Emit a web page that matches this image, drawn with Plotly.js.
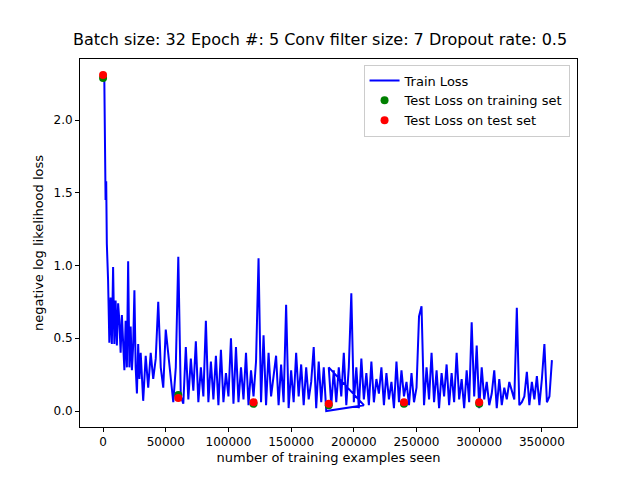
<!DOCTYPE html>
<html><head><meta charset="utf-8">
<script src="https://cdn.plot.ly/plotly-3.0.0.min.js"></script>
<style>body{margin:0}#plot{width:640px;height:480px}</style>
</head><body><div id="plot"></div>
<script>
// training loss
// first epoch start, irregular x
const earlyX = [0,1000,2000,2500,3000,4000,5000,6000,7000,8000,9000,10000,11000,12000,13000,14000,15000,16000,17000,18000,19000,20000,21000,22000,23000,24000,25000,26000,27000,28000,29000,30000];
const earlyY = [2.30,2.28,1.45,1.58,1.15,0.90,0.47,0.78,0.46,0.99,0.46,0.76,0.45,0.74,0.62,0.40,0.66,0.50,0.28,0.62,0.30,1.03,0.30,0.58,0.28,0.45,0.83,0.30,0.12,0.46,0.22,0.40];
// samples every 2000 examples, 32000..178000
const seg1Start = 32000;
const seg1Y = [
  0.07,0.38,0.16,0.40,0.22,0.36,0.75,0.30,0.16,0.56,
  0.40,0.20,0.06,0.30,1.06,0.10,0.05,0.44,0.08,0.36,
  0.14,0.48,0.06,0.30,0.10,0.62,0.06,0.34,0.08,0.38,
  0.04,0.42,0.06,0.26,0.10,0.50,0.05,0.44,0.06,0.30,
  0.08,0.40,0.04,0.28,0.10,0.34,1.05,0.06,0.52,0.04,
  0.40,0.10,0.25,0.38,0.04,0.32,0.06,0.73,0.02,0.28,
  0.06,0.40,0.10,0.32,0.04,0.30,0.08,0.20,0.44,0.02,
  0.34,0.06,0.30,0.00];
// the logged x jumps ahead once, then resumes
const jumpX = [208000];
const jumpY = [0.04];
// samples every 2000 examples, 180000..358000
const seg2Start = 180000;
const seg2Y = [
  0.30,0.04,0.28,0.06,0.30,0.10,0.40,0.04,0.30,0.81,
  0.06,0.30,0.02,0.36,0.08,0.26,0.04,0.34,0.06,0.22,
  0.12,0.30,0.04,0.26,0.08,0.20,0.02,0.34,0.06,0.28,
  0.10,0.20,0.04,0.26,0.06,0.16,0.65,0.72,0.04,0.30,
  0.08,0.40,0.06,0.28,0.02,0.26,0.10,0.32,0.04,0.26,
  0.06,0.40,0.08,0.22,0.02,0.28,0.06,0.61,0.10,0.45,
  0.02,0.30,0.08,0.20,0.04,0.12,0.28,0.02,0.22,0.04,
  0.16,0.08,0.20,0.14,0.08,0.71,0.04,0.06,0.10,0.27,
  0.04,0.20,0.08,0.24,0.04,0.22,0.46,0.06,0.10,0.35];
const sampleStep = 2000;
// evaluation points at the end of each epoch
const testX = [0,60000,120000,180000,240000,300000];
const testTrainY = [2.29,0.11,0.05,0.04,0.05,0.05];
const testTestY = [2.31,0.09,0.06,0.05,0.06,0.06];

const trainX = earlyX.concat(seg1Y.map((_, i) => seg1Start + i * sampleStep), jumpX,
                             seg2Y.map((_, i) => seg2Start + i * sampleStep));
const trainY = earlyY.concat(seg1Y, jumpY, seg2Y);

const font = {family:'DejaVu Sans', size:13, color:'#000'};
const traces = [
  {x:trainX, y:trainY, mode:'lines', name:'Train Loss', line:{color:'blue', width:2}},
  {x:testX, y:testTrainY, mode:'markers', name:'Test Loss on training set', marker:{color:'green', size:8}},
  {x:testX, y:testTestY, mode:'markers', name:'Test Loss on test set', marker:{color:'red', size:8}}
];
const axis = {showgrid:false, zeroline:false, showline:true, mirror:true, linecolor:'#000', linewidth:1,
  ticks:'outside', ticklen:4, tickcolor:'#000', tickfont:{family:'DejaVu Sans', size:12, color:'#000'}};
const layout = {
  width:640, height:480, paper_bgcolor:'#fff', plot_bgcolor:'#fff',
  margin:{l:80, r:63, t:59, b:53},
  title:{text:'Batch size: 32 Epoch #: 5 Conv filter size: 7 Dropout rate: 0.5', font:{family:'DejaVu Sans', size:16, color:'#000'}, x:0.5, xanchor:'center', y:0.93},
  xaxis:Object.assign({}, axis, {range:[-18400,378000], tickvals:[0,50000,100000,150000,200000,250000,300000,350000], tickformat:'d',
    title:{text:'number of training examples seen', font:font, standoff:4}}),
  yaxis:Object.assign({}, axis, {range:[-0.11,2.42], tickvals:[0,0.5,1,1.5,2], tickformat:'.1f',
    title:{text:'negative log likelihood loss', font:font, standoff:6}}),
  legend:{x:0.985, xanchor:'right', y:0.985, yanchor:'top', bgcolor:'rgba(255,255,255,0.8)', bordercolor:'#ccc', borderwidth:1, font:font},
  showlegend:true
};
Plotly.newPlot('plot', traces, layout, {displayModeBar:false, staticPlot:true});
</script></body></html>
